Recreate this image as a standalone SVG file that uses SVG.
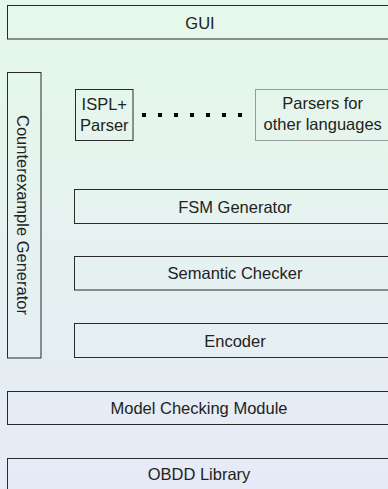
<svg xmlns="http://www.w3.org/2000/svg" width="388" height="489" viewBox="0 0 388 489">
<defs>
<linearGradient id="bg" x1="0" y1="0" x2="0" y2="1">
<stop offset="0" stop-color="#e5f9e9"/>
<stop offset="1" stop-color="#e6eaf7"/>
</linearGradient>
<style>
.box{fill:none;stroke:#2a2a2a;stroke-width:1}
.dot{fill:none;stroke:#444;stroke-width:1;stroke-dasharray:1 1}
text{font-family:"Liberation Sans",Arial,sans-serif;font-size:16.5px;fill:#222;text-anchor:middle}
</style>
</defs>
<rect x="0" y="0" width="388" height="489" fill="url(#bg)"/>
<g id="gui"><rect class="box" x="7.5" y="5.5" width="390" height="33.5"/><text x="200" y="28.5">GUI</text></g>
<g id="counterexample"><rect class="box" x="7.5" y="72.5" width="33.5" height="285.5"/><text transform="translate(16.5,215) rotate(90)" x="0" y="0">Counterexample Generator</text></g>
<g id="ispl"><rect class="box" x="75.5" y="89.5" width="57.5" height="51"/><text x="104.3" y="110">ISPL+</text><text x="104.3" y="131">Parser</text></g>
<g id="parsers"><rect class="dot" x="255.5" y="89.5" width="140" height="51"/><text x="322.7" y="109">Parsers for</text><text x="322.7" y="130">other languages</text></g>
<g id="fsm"><rect class="box" x="74.5" y="189.5" width="320" height="34"/><text x="235" y="212.5">FSM Generator</text></g>
<g id="semantic"><rect class="box" x="74.5" y="256.5" width="320" height="33.5"/><text x="235" y="279.3">Semantic Checker</text></g>
<g id="encoder"><rect class="box" x="74.5" y="323.5" width="320" height="34"/><text x="235" y="346.7">Encoder</text></g>
<g id="mcm"><rect class="box" x="7.5" y="391.5" width="390" height="33"/><text x="199" y="414">Model Checking Module</text></g>
<g id="obdd"><rect class="box" x="7.5" y="458.5" width="390" height="40"/><text x="199" y="480">OBDD Library</text></g>
<g id="connectors"><line x1="142" y1="115" x2="244" y2="115" stroke="#000" stroke-width="4" stroke-dasharray="4 12"/></g>
</svg>
